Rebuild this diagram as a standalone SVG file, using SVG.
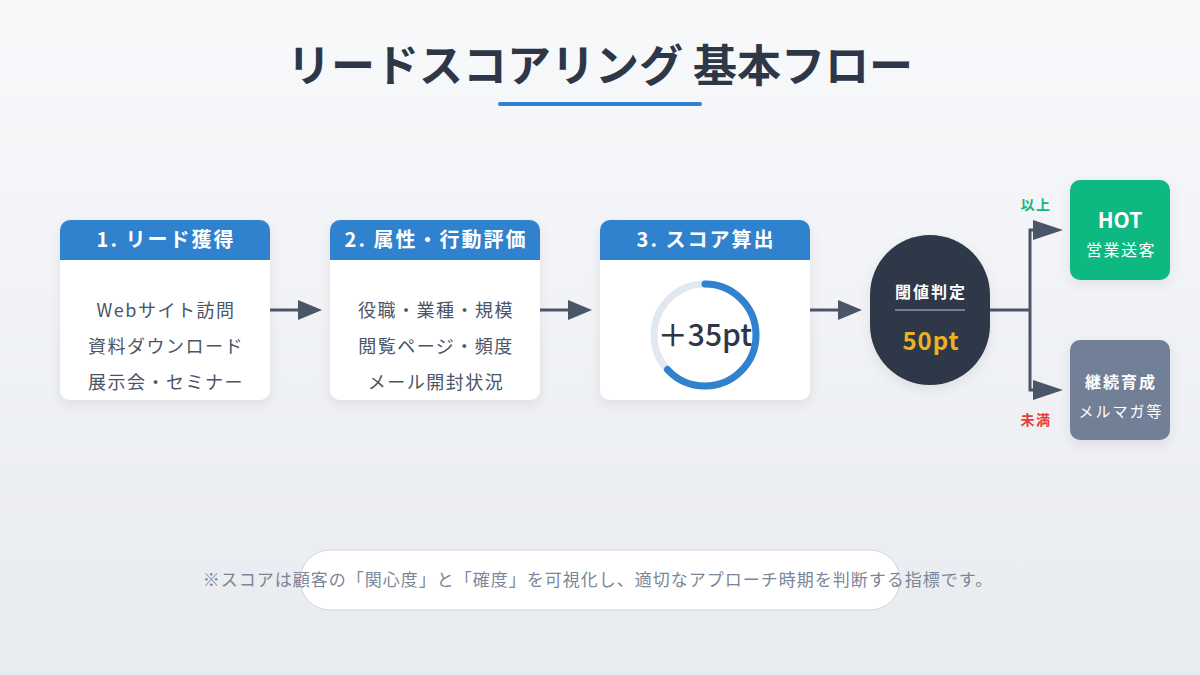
<svg xmlns="http://www.w3.org/2000/svg" width="1200" height="675" viewBox="0 0 1200 675">
<defs>
<linearGradient id="bg" x1="0" y1="0" x2="0" y2="1">
<stop offset="0" stop-color="#f8f9fb"/>
<stop offset="1" stop-color="#e8ebef"/>
</linearGradient>
<filter id="sh" x="-20%" y="-20%" width="140%" height="150%">
<feDropShadow dx="0" dy="4" stdDeviation="6" flood-color="#1a202c" flood-opacity="0.08"/>
</filter>
<clipPath id="c1"><rect x="60" y="220" width="210" height="180" rx="10"/></clipPath>
<clipPath id="c2"><rect x="330" y="220" width="210" height="180" rx="10"/></clipPath>
<clipPath id="c3"><rect x="600" y="220" width="210" height="180" rx="10"/></clipPath>
</defs>
<style>
text{font-family:"Noto Sans CJK JP","Noto Sans",sans-serif;text-anchor:middle}
.hd{font-size:20px;font-weight:700;fill:#fff;letter-spacing:2px}
.bd{font-size:18px;fill:#4a5568;letter-spacing:1.5px}
.ln{stroke:#4a5568;stroke-width:3;fill:none}
</style>
<rect width="1200" height="675" fill="url(#bg)"/>
<g id="title">
<text x="600" y="82" style="font-size:44px;font-weight:700;fill:#2d3748">リードスコアリング 基本フロー</text>
<line x1="500" y1="104" x2="700" y2="104" stroke="#3182ce" stroke-width="4" stroke-linecap="round"/>
</g>
<g id="connectors">
<line class="ln" x1="270" y1="310" x2="300" y2="310"/>
<path d="M298,300 L322,310 L298,320 z" fill="#4a5568"/>
<line class="ln" x1="540" y1="310" x2="570" y2="310"/>
<path d="M568,300 L592,310 L568,320 z" fill="#4a5568"/>
<line class="ln" x1="810" y1="310" x2="840" y2="310"/>
<path d="M838,300 L862,310 L838,320 z" fill="#4a5568"/>
<polyline class="ln" points="990,310 1030,310"/>
<polyline class="ln" points="1036,230 1030,230 1030,390 1036,390"/>
<path d="M1033,220 L1063,230 L1033,240 z" fill="#4a5568"/>
<path d="M1033,380 L1063,390 L1033,400 z" fill="#4a5568"/>
<text x="1036" y="210" style="font-size:14px;font-weight:700;fill:#10b981;letter-spacing:1.5px">以上</text>
<text x="1036" y="425" style="font-size:14px;font-weight:700;fill:#e53e3e;letter-spacing:1.5px">未満</text>
</g>
<g id="node1">
<rect x="60" y="220" width="210" height="180" rx="10" fill="#fff" filter="url(#sh)"/>
<rect x="60" y="220" width="210" height="40" fill="#3182ce" clip-path="url(#c1)"/>
<text class="hd" x="166" y="247">1. リード獲得</text>
<text class="bd" x="166" y="317">Webサイト訪問</text>
<text class="bd" x="166" y="353">資料ダウンロード</text>
<text class="bd" x="166" y="389">展示会・セミナー</text>
</g>
<g id="node2">
<rect x="330" y="220" width="210" height="180" rx="10" fill="#fff" filter="url(#sh)"/>
<rect x="330" y="220" width="210" height="40" fill="#3182ce" clip-path="url(#c2)"/>
<text class="hd" x="436" y="247">2. 属性・行動評価</text>
<text class="bd" x="436" y="317">役職・業種・規模</text>
<text class="bd" x="436" y="353">閲覧ページ・頻度</text>
<text class="bd" x="436" y="389">メール開封状況</text>
</g>
<g id="node3">
<rect x="600" y="220" width="210" height="180" rx="10" fill="#fff" filter="url(#sh)"/>
<rect x="600" y="220" width="210" height="40" fill="#3182ce" clip-path="url(#c3)"/>
<text class="hd" x="706" y="247">3. スコア算出</text>
<circle cx="705" cy="335" r="51" fill="none" stroke="#e2e8f0" stroke-width="7"/>
<circle cx="705" cy="335" r="51" fill="none" stroke="#3182ce" stroke-width="7" stroke-linecap="round" stroke-dasharray="202 400" transform="rotate(-90 705 335)"/>
<text x="705" y="346" style="font-size:30px;font-weight:500;fill:#2d3748">＋35pt</text>
</g>
<g id="decision">
<rect x="870" y="235" width="120" height="150" rx="60" fill="#2d3748" filter="url(#sh)"/>
<text x="931" y="298" style="font-size:16px;font-weight:700;fill:#fff;letter-spacing:2px">閾値判定</text>
<line x1="895" y1="310" x2="965" y2="310" stroke="#718096" stroke-width="2"/>
<text x="931" y="350" style="font-size:24px;font-weight:700;fill:#ecb31e;letter-spacing:1px">50pt</text>
</g>
<g id="hot">
<rect x="1070" y="180" width="100" height="100" rx="10" fill="#10b981" filter="url(#sh)"/>
<text x="1120" y="228" style="font-size:21px;font-weight:700;fill:#fff">HOT</text>
<text x="1121" y="256" style="font-size:16px;fill:#fff;letter-spacing:1.5px">営業送客</text>
</g>
<g id="nurture">
<rect x="1070" y="340" width="100" height="100" rx="10" fill="#718096" filter="url(#sh)"/>
<text x="1121" y="388" style="font-size:16px;font-weight:700;fill:#fff;letter-spacing:2px">継続育成</text>
<text x="1121" y="417" style="font-size:15px;fill:#fff;letter-spacing:2px">メルマガ等</text>
</g>
<g id="note">
<rect x="300" y="550" width="600" height="60" rx="30" fill="#fff" stroke="#cbd5e0" stroke-width="1"/>
<text x="598" y="586" style="font-size:17px;fill:#7a869a;letter-spacing:1px">※スコアは顧客の「関心度」と「確度」を可視化し、適切なアプローチ時期を判断する指標です。</text>
</g>
</svg>
